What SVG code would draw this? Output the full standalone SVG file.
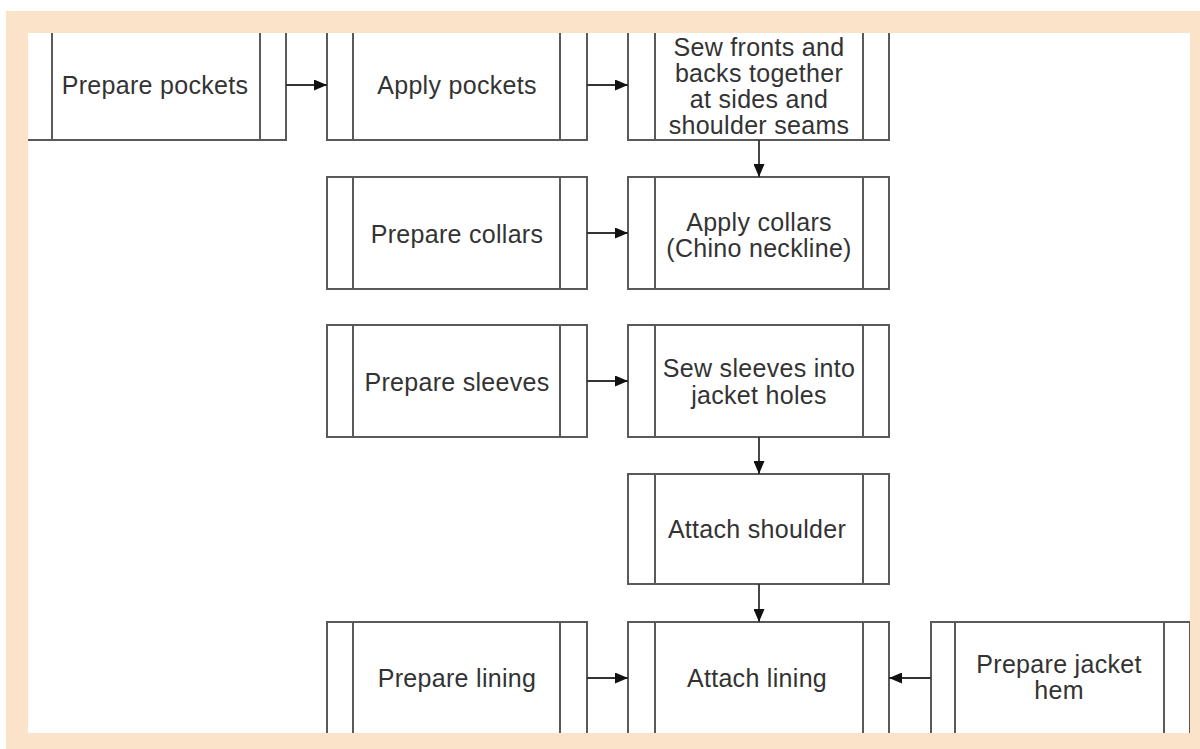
<svg xmlns="http://www.w3.org/2000/svg" width="1200" height="749" viewBox="0 0 1200 749">
<style>
.box{fill:#fff;stroke:#5a5a5a;stroke-width:2}
.bar{stroke:#5a5a5a;stroke-width:2}
.t{font-family:"Liberation Sans",Arial,sans-serif;font-size:25px;fill:#333;text-anchor:middle;letter-spacing:0.3px}
.c{stroke:#333;stroke-width:1.8;fill:none;marker-end:url(#ah)}
</style>
<defs>
<marker id="ah" viewBox="0 0 13 11" refX="13" refY="5.5" markerWidth="13" markerHeight="11" markerUnits="userSpaceOnUse" orient="auto">
<path d="M0,0 L13,5.5 L0,11 Z" fill="#111"/>
</marker>
<clipPath id="clip"><rect x="28" y="33" width="1162" height="700"/></clipPath>
</defs>
<rect x="0" y="0" width="1200" height="749" fill="#fff"/>
<rect x="6" y="11" width="1194" height="738" fill="#fbe3c9"/>
<rect x="28" y="33" width="1162" height="700" fill="#fff"/>
<g clip-path="url(#clip)">
<g id="prepare-pockets"><rect class="box" x="27" y="30" width="259" height="110"/><line class="bar" x1="52" y1="30" x2="52" y2="140"/><line class="bar" x1="260" y1="30" x2="260" y2="140"/><text class="t" x="155" y="94">Prepare pockets</text></g>
<g id="apply-pockets"><rect class="box" x="327" y="30" width="260" height="110"/><line class="bar" x1="353" y1="30" x2="353" y2="140"/><line class="bar" x1="560" y1="30" x2="560" y2="140"/><text class="t" x="457" y="94">Apply pockets</text></g>
<g id="sew-fronts"><rect class="box" x="628" y="30" width="261" height="110"/><line class="bar" x1="655" y1="30" x2="655" y2="140"/><line class="bar" x1="863" y1="30" x2="863" y2="140"/><text class="t" x="759" y="56">Sew fronts and</text><text class="t" x="759" y="82">backs together</text><text class="t" x="759" y="108">at sides and</text><text class="t" x="759" y="134">shoulder seams</text></g>
<g id="prepare-collars"><rect class="box" x="327" y="177" width="260" height="112"/><line class="bar" x1="353" y1="177" x2="353" y2="289"/><line class="bar" x1="560" y1="177" x2="560" y2="289"/><text class="t" x="457" y="243">Prepare collars</text></g>
<g id="apply-collars"><rect class="box" x="628" y="177" width="261" height="112"/><line class="bar" x1="655" y1="177" x2="655" y2="289"/><line class="bar" x1="863" y1="177" x2="863" y2="289"/><text class="t" x="759" y="231">Apply collars</text><text class="t" x="759" y="257">(Chino neckline)</text></g>
<g id="prepare-sleeves"><rect class="box" x="327" y="325" width="260" height="112"/><line class="bar" x1="353" y1="325" x2="353" y2="437"/><line class="bar" x1="560" y1="325" x2="560" y2="437"/><text class="t" x="457" y="391">Prepare sleeves</text></g>
<g id="sew-sleeves"><rect class="box" x="628" y="325" width="261" height="112"/><line class="bar" x1="655" y1="325" x2="655" y2="437"/><line class="bar" x1="863" y1="325" x2="863" y2="437"/><text class="t" x="759" y="377">Sew sleeves into</text><text class="t" x="759" y="404">jacket holes</text></g>
<g id="attach-shoulder"><rect class="box" x="628" y="474" width="261" height="110"/><line class="bar" x1="655" y1="474" x2="655" y2="584"/><line class="bar" x1="863" y1="474" x2="863" y2="584"/><text class="t" x="757" y="538">Attach shoulder</text></g>
<g id="prepare-lining"><rect class="box" x="327" y="622" width="260" height="112"/><line class="bar" x1="353" y1="622" x2="353" y2="734"/><line class="bar" x1="560" y1="622" x2="560" y2="734"/><text class="t" x="457" y="687">Prepare lining</text></g>
<g id="attach-lining"><rect class="box" x="628" y="622" width="261" height="112"/><line class="bar" x1="655" y1="622" x2="655" y2="734"/><line class="bar" x1="863" y1="622" x2="863" y2="734"/><text class="t" x="757" y="687">Attach lining</text></g>
<g id="prepare-jacket-hem"><rect class="box" x="931" y="622" width="259" height="112"/><line class="bar" x1="955" y1="622" x2="955" y2="734"/><line class="bar" x1="1164" y1="622" x2="1164" y2="734"/><text class="t" x="1059" y="673">Prepare jacket</text><text class="t" x="1059" y="699">hem</text></g>
<g id="connectors">
<line class="c" x1="286" y1="85" x2="327" y2="85"/>
<line class="c" x1="587" y1="85" x2="628" y2="85"/>
<line class="c" x1="759" y1="140" x2="759" y2="177"/>
<line class="c" x1="587" y1="233" x2="628" y2="233"/>
<line class="c" x1="587" y1="381" x2="628" y2="381"/>
<line class="c" x1="759" y1="437" x2="759" y2="474"/>
<line class="c" x1="759" y1="584" x2="759" y2="622"/>
<line class="c" x1="587" y1="678" x2="628" y2="678"/>
<line class="c" x1="931" y1="678" x2="889" y2="678"/>
</g>
</g>
</svg>
